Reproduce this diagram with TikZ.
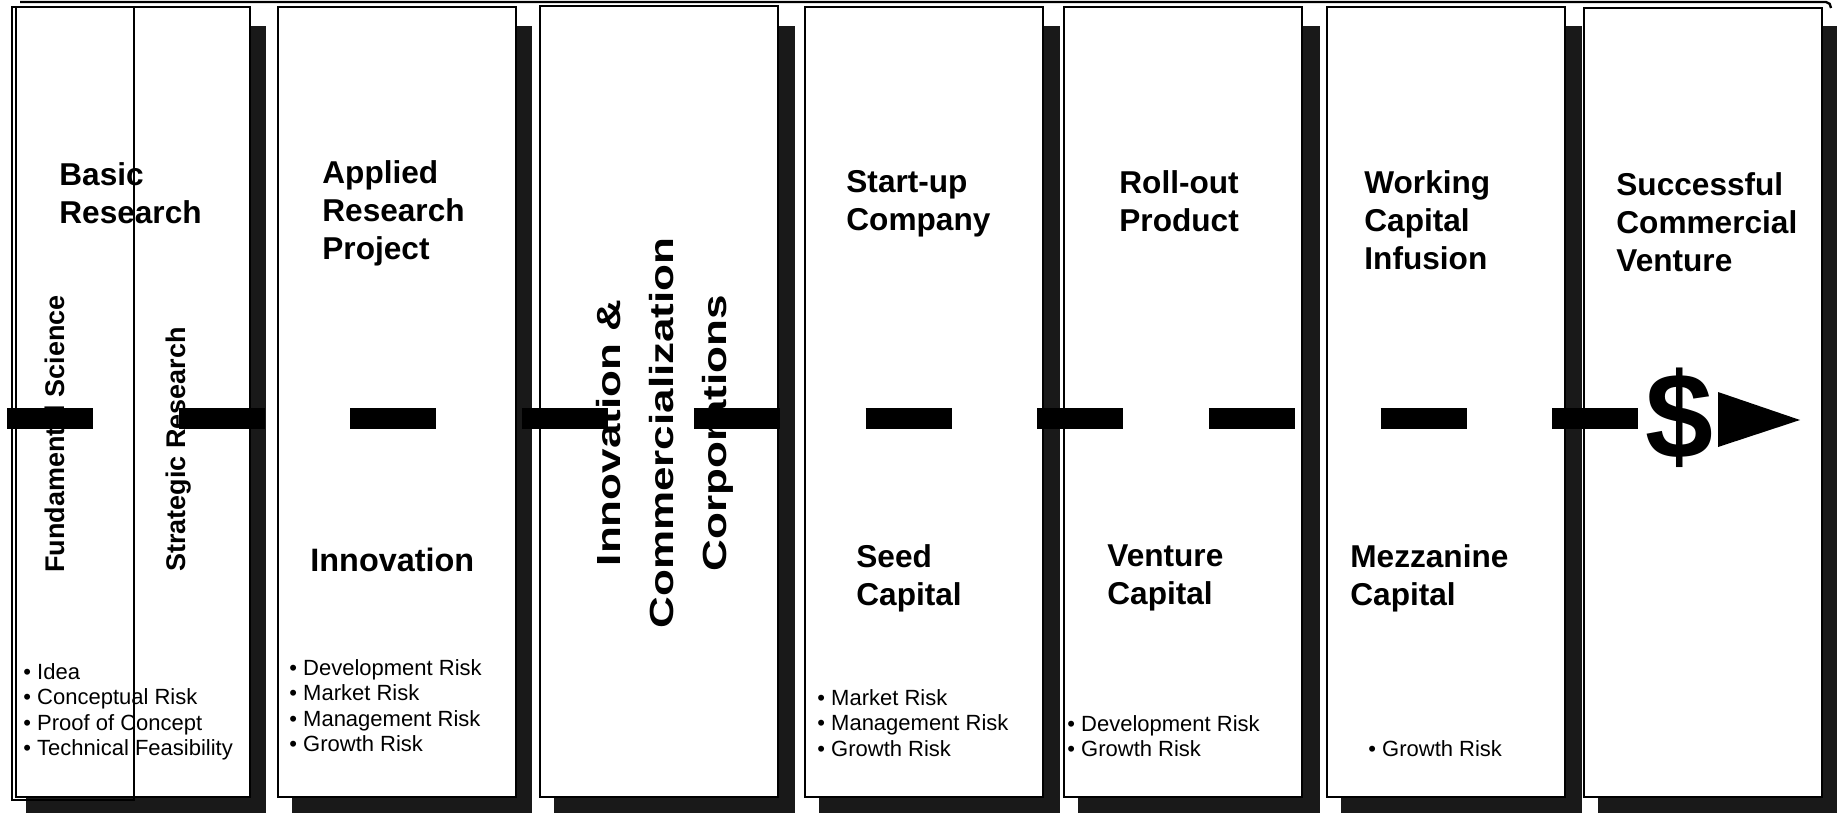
\documentclass[tikz,border=0pt]{standalone}
\usepackage{fontspec}
\setmainfont{Liberation Sans}
\usepackage{graphicx}

\tikzset{
  panel/.style={draw=black, fill=white, line width=1pt},
  panelshadow/.style={fill=black!90},
  stagetitle/.style={anchor=north west, inner sep=0pt, align=left,
    font=\bfseries\fontsize{15.8}{19}\selectfont},
  risklist/.style={anchor=north west, inner sep=0pt, align=left,
    font=\fontsize{11}{12.7}\selectfont},
  sidelabel/.style={rotate=90, anchor=west, inner sep=0pt,
    font=\bfseries\fontsize{13.5}{16}\selectfont},
  dashbar/.style={line width=10.5pt, dash pattern=on 43pt off 42.85pt}
}

\begin{document}
\begin{tikzpicture}[x=0.5pt, y=-0.5pt]

  \useasboundingbox (0,0) rectangle (1837,813);
  \clip (0,0) rectangle (1837,813);
  \fill[white] (0,0) rectangle (1837,813);

  % Shadows behind the panels
  \fill[panelshadow] (26,26) rectangle (266,820);
  \fill[panelshadow] (292,26) rectangle (532,820);
  \fill[panelshadow] (554,26) rectangle (795,820);
  \fill[panelshadow] (819,26) rectangle (1060,820);
  \fill[panelshadow] (1078,26) rectangle (1320,820);
  \fill[panelshadow] (1341,26) rectangle (1582,820);
  \fill[panelshadow] (1598,26) rectangle (1840,820);

  % Panels
  \draw[panel] (16,7) rectangle (250,797);
  \draw[line width=0.8pt] (12,7) rectangle (134,800);
  \draw[panel] (278,7) rectangle (516,797);
  \draw[panel] (540,6) rectangle (778,797);
  \draw[panel] (805,7) rectangle (1043,797);
  \draw[panel] (1064,7) rectangle (1302,797);
  \draw[panel] (1327,7) rectangle (1565,797);
  \draw[panel] (1584,8) rectangle (1822,797);

  % Stage titles
  \node[stagetitle] (basic) at (59,162) {Basic\\Research};
  \node[stagetitle] (applied) at (322,160) {Applied\\Research\\Project};
  \node[stagetitle] (startup) at (846,170) {Start-up\\Company};
  \node[stagetitle] (rollout) at (1119,170) {Roll-out\\Product};
  \node[stagetitle] (working) at (1364,170) {Working\\Capital\\Infusion};
  \node[stagetitle] (success) at (1616,172) {Successful\\Commercial\\Venture};

  % Funding titles
  \node[stagetitle, font=\bfseries\fontsize{16.2}{19}\selectfont] (innov) at (310,548) {Innovation};
  \node[stagetitle] (seed) at (856,544) {Seed\\Capital};
  \node[stagetitle] (venture) at (1107,544) {Venture\\Capital};
  \node[stagetitle] (mezz) at (1350,544) {Mezzanine\\Capital};

  % Side labels of basic research
  \node[sidelabel] (fund) at (55,573) {Fundamental Science};
  \node[sidelabel] (strat) at (179,572) {Strategic Research};

  % Corporations label
  \node[rotate=90, inner sep=0pt] (icc) at (663,433)
    {\scalebox{1}[0.76]{\bfseries\fontsize{22}{35}\selectfont
     \begin{tabular}{@{}c@{}}Innovation \&\\Commercialization\\Corporations\end{tabular}}};

  % Risk lists
  \node[risklist] (basicrisk) at (23,663)
    {\textbullet\ Idea\\\textbullet\ Conceptual Risk\\\textbullet\ Proof of Concept\\\textbullet\ Technical Feasibility};
  \node[risklist] (appliedrisk) at (289,659)
    {\textbullet\ Development Risk\\\textbullet\ Market Risk\\\textbullet\ Management Risk\\\textbullet\ Growth Risk};
  \node[risklist] (startrisk) at (817,689)
    {\textbullet\ Market Risk\\\textbullet\ Management Risk\\\textbullet\ Growth Risk};
  \node[risklist] (rollrisk) at (1067,715)
    {\textbullet\ Development Risk\\\textbullet\ Growth Risk};
  \node[risklist] (workrisk) at (1368,740) {\textbullet\ Growth Risk};

  % Dollar and the dashed bar leading to it
  \node[inner sep=0pt, font=\bfseries\fontsize{61}{61}\selectfont] (dollar) at (1679,418) {\$};
  \coordinate (barstart) at (7,418);
  \draw[dashbar] (barstart) -- (barstart -| dollar.west);
  \fill (1718,392) -- (1800,420) -- (1718,447) -- cycle;

  % Top rule
  \draw[line width=1.2pt] (20,2) -- (1826,2) to[out=0, in=90] (1831,8);

\end{tikzpicture}
\end{document}
